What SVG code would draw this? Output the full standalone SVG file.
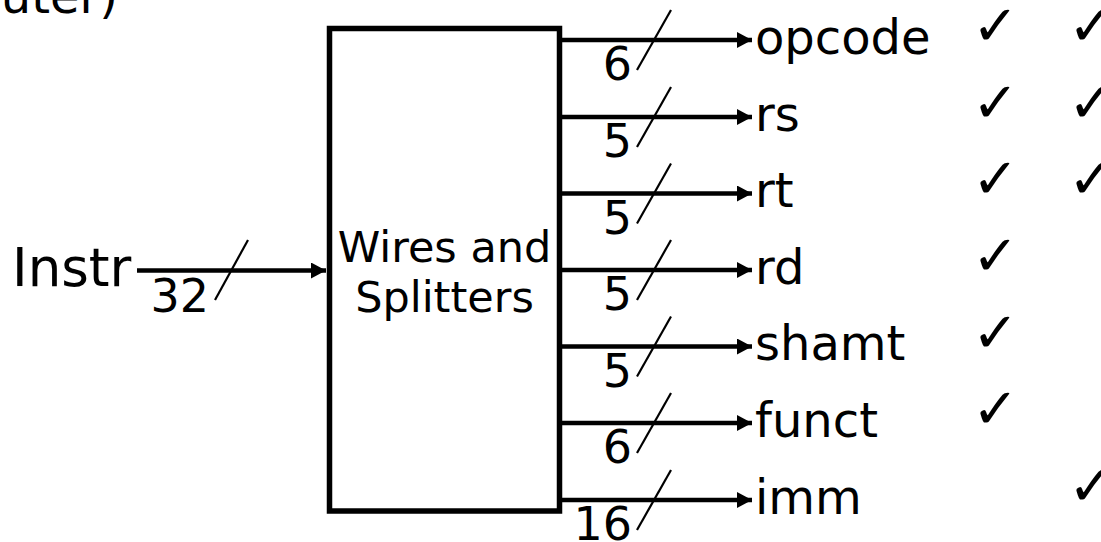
<svg xmlns="http://www.w3.org/2000/svg" width="1101" height="542" viewBox="0 0 1101 542">
<defs>
<style>
text{font-family:"DejaVu Sans",sans-serif;fill:#000}
.lbl{font-size:48px}
.num{font-size:46px;text-anchor:end}
.box{font-size:43px;text-anchor:middle}
.chk{font-size:56px}
.wire{stroke:#000;stroke-width:4.5;fill:none}
.slash{stroke:#000;stroke-width:2.2;fill:none}
</style>
<marker id="ah" markerUnits="userSpaceOnUse" markerWidth="16" markerHeight="18" refX="15" refY="8" orient="auto">
<path d="M0,0 L15,8 L0,16 Z" fill="#000"/>
</marker>
</defs>
<rect width="1101" height="542" fill="#fff"/>
<text class="lbl" x="118" y="13" text-anchor="end">uter)</text>
<g id="instr">
<text x="12" y="286" font-size="53">Instr</text>
</g>
<g id="splitter">
<rect x="329.5" y="28.5" width="230" height="482.5" fill="#fff" stroke="#000" stroke-width="5.5"/>
<text class="box" x="444.5" y="262">Wires and</text>
<text class="box" x="444.5" y="312">Splitters</text>
</g>
<g id="connectors">
<line class="wire" x1="137" y1="270.5" x2="326" y2="270.5" marker-end="url(#ah)"/>
<line class="slash" x1="215" y1="300" x2="248" y2="240"/>
<text class="num" x="209" y="312">32</text>
<line class="wire" x1="562" y1="40" x2="752" y2="40" marker-end="url(#ah)"/>
<line class="slash" x1="637" y1="70" x2="671" y2="10"/>
<text class="num" x="632" y="80">6</text>
<line class="wire" x1="562" y1="117" x2="752" y2="117" marker-end="url(#ah)"/>
<line class="slash" x1="637" y1="147" x2="671" y2="87"/>
<text class="num" x="632" y="157">5</text>
<line class="wire" x1="562" y1="193.5" x2="752" y2="193.5" marker-end="url(#ah)"/>
<line class="slash" x1="637" y1="223.5" x2="671" y2="163.5"/>
<text class="num" x="632" y="233.5">5</text>
<line class="wire" x1="562" y1="270" x2="752" y2="270" marker-end="url(#ah)"/>
<line class="slash" x1="637" y1="300" x2="671" y2="240"/>
<text class="num" x="632" y="310">5</text>
<line class="wire" x1="562" y1="346.5" x2="752" y2="346.5" marker-end="url(#ah)"/>
<line class="slash" x1="637" y1="376.5" x2="671" y2="316.5"/>
<text class="num" x="632" y="386.5">5</text>
<line class="wire" x1="562" y1="423" x2="752" y2="423" marker-end="url(#ah)"/>
<line class="slash" x1="637" y1="453" x2="671" y2="393"/>
<text class="num" x="632" y="463">6</text>
<line class="wire" x1="562" y1="500" x2="752" y2="500" marker-end="url(#ah)"/>
<line class="slash" x1="637" y1="530" x2="671" y2="470"/>
<text class="num" x="632" y="540">16</text>
</g>
<g id="outputs">
<text class="lbl" x="755" y="54">opcode</text>
<text class="lbl" x="755" y="131">rs</text>
<text class="lbl" x="755" y="207">rt</text>
<text class="lbl" x="755" y="284">rd</text>
<text class="lbl" x="755" y="360">shamt</text>
<text class="lbl" x="755" y="437">funct</text>
<text class="lbl" x="755" y="514">imm</text>
</g>
<g id="checks">
<text class="chk" x="972" y="45">✓</text>
<text class="chk" x="1068" y="45">✓</text>
<text class="chk" x="972" y="122">✓</text>
<text class="chk" x="1068" y="122">✓</text>
<text class="chk" x="972" y="198">✓</text>
<text class="chk" x="1068" y="198">✓</text>
<text class="chk" x="972" y="275">✓</text>
<text class="chk" x="972" y="352">✓</text>
<text class="chk" x="972" y="428">✓</text>
<text class="chk" x="1068" y="505">✓</text>
</g>
</svg>
